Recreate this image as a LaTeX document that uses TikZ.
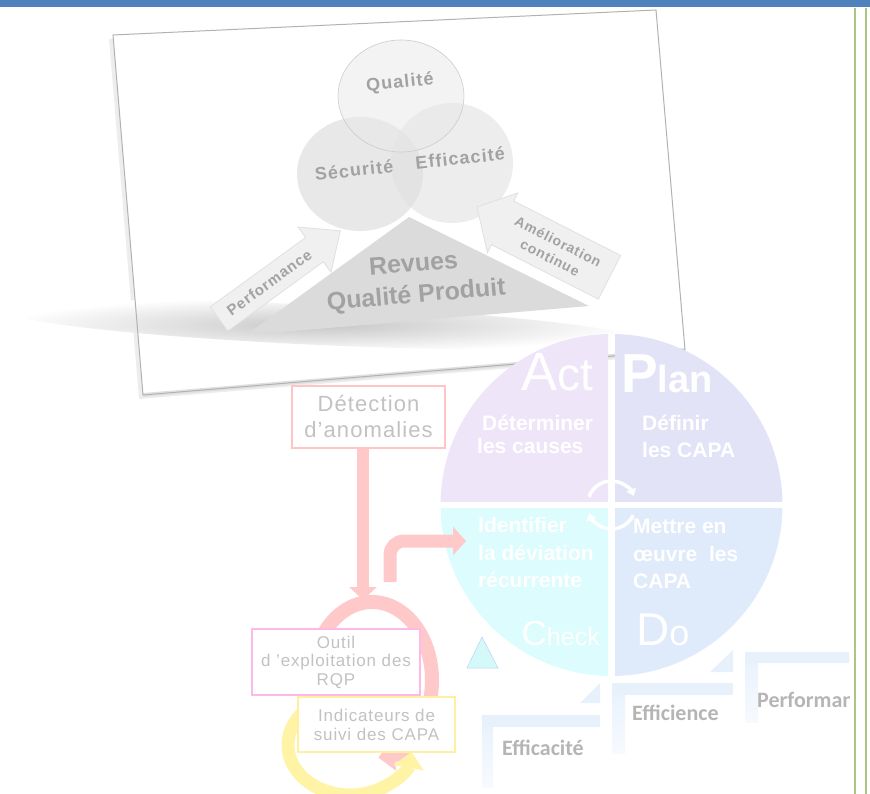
\documentclass[tikz,border=0pt]{standalone}
\usepackage{fontspec}
\setmainfont{Liberation Sans}
\newfontfamily\calfont{Carlito}
\newfontfamily\spacedsans[LetterSpace=5]{Liberation Sans}
\newfontfamily\widesans[LetterSpace=6]{Liberation Sans}
\usetikzlibrary{arrows.meta}

\definecolor{topbar}{HTML}{4F81BD}
\definecolor{rulec}{HTML}{ABC682}
\definecolor{actc}{HTML}{EEE5F8}
\definecolor{planc}{HTML}{E3E3F8}
\definecolor{checkc}{HTML}{DCFCFD}
\definecolor{doc}{HTML}{DFEAFA}
\definecolor{pinkc}{HTML}{FFC9C9}
\definecolor{pinkline}{HTML}{FFC4C4}
\definecolor{magline}{HTML}{FFB8EA}
\definecolor{yelc}{HTML}{FFF3A6}
\definecolor{yelline}{HTML}{FFEFA0}
\definecolor{faint}{HTML}{C2C2C2}
\definecolor{photogray}{HTML}{A2A2A2}
\definecolor{stepc}{HTML}{E7F1FC}
\definecolor{steptxt}{HTML}{B5B5B5}
\definecolor{cyantri}{HTML}{D4F9F8}

\tikzset{
  boxtxt/.style={fill=white, line width=1.6pt, text=faint, align=center, inner sep=0pt},
  pdcatxt/.style={anchor=base west, text=white, inner sep=0pt,
                  font=\bfseries\fontsize{21}{21}\selectfont},
  venntxt/.style={text=photogray, font=\widesans\bfseries\fontsize{18}{18}\selectfont},
  blockarrow/.style={fill=black!6, draw=black!12, line width=0.8pt},
  steptext/.style={anchor=base west, text=steptxt, inner sep=0pt,
                   font=\calfont\bfseries\fontsize{22}{22}\selectfont},
  stepbar/.style={fill=stepc},
  cyclearrow/.style={white, line width=3.5pt, -{Triangle[width=10pt,length=7pt]}},
}

\begin{document}
\begin{tikzpicture}[x=1pt,y=-1pt]
\useasboundingbox (0,0) rectangle (870,794);

% page header bar and margin rules
\fill[topbar] (0,0) rectangle (870,7);
\draw[rulec, line width=2.5pt] (855,8) -- (855,794);
\draw[rulec, line width=2.5pt] (866,8) -- (866,794);

% ---------- tilted photo ----------
\coordinate (ptl) at (113,35);
\coordinate (ptr) at (656,10);
\coordinate (pbr) at (685,350);
\coordinate (pbl) at (143,395);
\fill[black!7] ([shift={(-4,4)}]ptl) -- ([shift={(-4,4)}]ptr) -- ([shift={(-4,4)}]pbr) -- ([shift={(-4,4)}]pbl) -- cycle;
\fill[white] (ptl) -- (ptr) -- (pbr) -- (pbl) -- cycle;

% soft reflection band under the picture
\begin{scope}[shift={(320,325)}, rotate=-2.6]
  \shade[inner color=black!22, outer color=white] (0,0) ellipse [x radius=315, y radius=20];
\end{scope}

% Venn circles
\fill[black!16, fill opacity=0.55] (360,174) ellipse [x radius=63, y radius=57];
\fill[black!12, fill opacity=0.55] (452,163) ellipse [x radius=61, y radius=60];
\filldraw[fill=black!9, fill opacity=0.5, draw=black!20, line width=0.6pt] (401,96) ellipse [x radius=63, y radius=56];
\node[venntxt, rotate=6] (qual) at (400,83) {Qualité};
\node[venntxt, rotate=6] (secu) at (354,170) {Sécurité};
\node[venntxt, rotate=6] (effi) at (460,158) {Efficacité};

% triangle
\fill[black!14] (409,217) -- (589,306) -- (246,335) -- cycle;
\node[text=photogray, align=center, rotate=5, inner sep=0pt,
      font=\bfseries\fontsize{25}{31}\selectfont] (rqp) at (415,281) {Revues\\Qualité Produit};

% block arrow "Performance"
\begin{scope}[shift={(219,319)}, rotate=36]
  \draw[blockarrow] (0,-15) -- (118,-15) -- (118,-28) -- (150,0) -- (118,28) -- (118,15) -- (0,15) -- cycle;
  \node[transform shape, text=photogray, font=\widesans\bfseries\fontsize{15}{15}\selectfont] (perfa) at (62,0) {Performance};
\end{scope}
% block arrow "Amélioration continue"
\begin{scope}[shift={(477,207)}, rotate=-27]
  \draw[blockarrow] (0,0) -- (30,-31) -- (30,-22) -- (150,-22) -- (150,27) -- (30,27) -- (30,36) -- cycle;
  \node[transform shape, text=photogray, align=center, font=\widesans\bfseries\fontsize{14}{18}\selectfont] (amel) at (88,3) {Amélioration\\continue};
\end{scope}

% photo border
\draw[black!12, line width=4pt] (pbl) -- (pbr);
\draw[black!30, line width=1pt, line join=round] (ptl) -- (ptr) -- (pbr) -- (pbl) -- cycle;

% ---------- PDCA wheel ----------
\coordinate (pdca) at (611.5,505);
\begin{scope}
  \clip (400,300) rectangle (608,501.5);
  \fill[actc] (pdca) circle (171);
\end{scope}
\begin{scope}
  \clip (615,300) rectangle (800,501.5);
  \fill[planc] (pdca) circle (171);
\end{scope}
\begin{scope}
  \clip (400,508.5) rectangle (608,700);
  \fill[checkc] (pdca) circle (171);
\end{scope}
\begin{scope}
  \clip (615,508.5) rectangle (800,700);
  \fill[doc] (pdca) circle (171);
\end{scope}

\node[anchor=base east, text=white, inner sep=0pt] (act) at (593,390)
  {\fontsize{54}{54}\selectfont A\fontsize{46}{46}\selectfont ct};
\node[anchor=base west, text=white, inner sep=0pt, font=\bfseries] (plan) at (621,392)
  {\fontsize{55}{55}\selectfont P\fontsize{38}{38}\selectfont lan};
\node[anchor=base east, text=white, inner sep=0pt] (check) at (600,645)
  {\fontsize{35}{35}\selectfont C\fontsize{25}{25}\selectfont heck};
\node[anchor=base west, text=white, inner sep=0pt] (do) at (636,645)
  {\fontsize{46}{46}\selectfont D\fontsize{36}{36}\selectfont o};

\node[pdcatxt] (a1) at (482,430) {Déterminer};
\node[pdcatxt] (a2) at (477,453) {les causes};
\node[pdcatxt] (p1) at (642,430) {Définir};
\node[pdcatxt] (p2) at (642,457) {les CAPA};
\node[pdcatxt] (c1) at (478,532) {Identifier};
\node[pdcatxt] (c2) at (478,560) {la déviation};
\node[pdcatxt] (c3) at (478,587) {récurrente};
\node[pdcatxt] (d1) at (633,533) {Mettre en};
\node[pdcatxt] (d2) at (633,561) {œuvre~~les};
\node[pdcatxt] (d3) at (633,588) {CAPA};

% turning arrows at the hub
\draw[cyclearrow] (pdca) ++(200:24) arc[start angle=200, end angle=338, radius=24];
\draw[cyclearrow] (pdca) ++(25:24) arc[start angle=25, end angle=160, radius=24];

% small cyan marker
\filldraw[fill=cyantri, draw=cyantri!85!blue, line width=0.5pt] (482,637) -- (498,668) -- (467,668) -- cycle;

% ---------- detection loop ----------
\coordinate (dtip) at (363,600);
\coordinate (bendstart) at (390,582);
\coordinate (bendtip) at (466,541);
\coordinate (ringc) at (372,680);
\coordinate (yringc) at (350,745);

\draw[pinkc, line width=12pt, -{Triangle[width=27pt,length=13pt]}] (363,448) -- (dtip);
\draw[pinkc, line width=13pt, rounded corners=14pt, -{Triangle[width=28pt,length=13pt]}] (bendstart) |- (bendtip);

\draw[pinkc, line width=14pt, -{Triangle[width=30pt,length=16pt]}]
  (ringc) ++(175:60 and 78) arc[start angle=175, end angle=444, x radius=60, y radius=78];
\draw[yelc, line width=13pt, -{Triangle[width=30pt,length=16pt]}]
  (yringc) ++(250:62 and 50) arc[start angle=250, end angle=8, x radius=62, y radius=50];

\node[boxtxt, draw=pinkline, minimum width=153pt, minimum height=62pt,
      font=\spacedsans\fontsize{22}{26}\selectfont] (det) at (368.5,417) {Détection\\d’anomalies};
\node[boxtxt, draw=magline, minimum width=168pt, minimum height=66pt,
      font=\spacedsans\fontsize{17}{18.5}\selectfont] (outil) at (336,662) {Outil\\d ’exploitation des\\RQP};
\node[boxtxt, draw=yelline, minimum width=157pt, minimum height=55pt,
      font=\spacedsans\fontsize{17}{19}\selectfont] (indic) at (376.5,724.5) {Indicateurs de\\suivi des CAPA};

% ---------- steps ----------
\shade[top color=stepc, bottom color=stepc!35] (482,715) rectangle (493,787);
\fill[stepbar] (482,715) rectangle (600,727);
\fill[stepc] (580,703) -- (600,703) -- (600,683) -- cycle;
\node[steptext] (eff1) at (502,755) {Efficacité};

\shade[top color=stepc, bottom color=stepc!35] (612,683) rectangle (625,753);
\fill[stepbar] (612,683) rectangle (733,695);
\fill[stepc] (710,672) -- (733,672) -- (733,650) -- cycle;
\node[steptext] (eff2) at (632,720) {Efficience};

\begin{scope}
  \clip (740,600) rectangle (849,794);
  \shade[top color=stepc, bottom color=stepc!35] (745,652) rectangle (758,722);
  \fill[stepbar] (745,652) rectangle (860,663);
  \node[steptext] (perf) at (757,707) {Performance};
\end{scope}

\end{tikzpicture}
\end{document}
